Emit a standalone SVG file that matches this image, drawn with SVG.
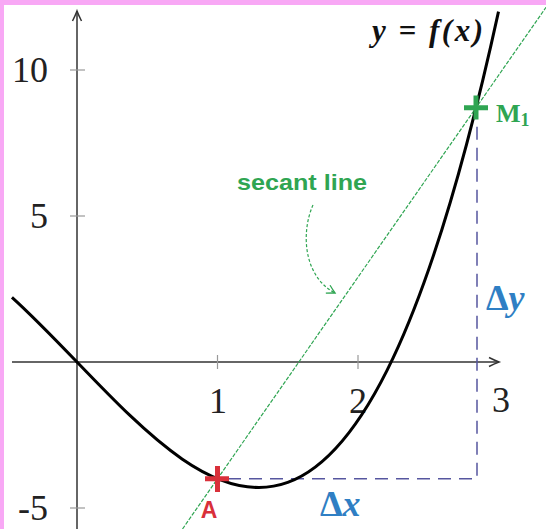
<svg xmlns="http://www.w3.org/2000/svg" width="546" height="529" viewBox="0 0 546 529">
<style>
.axis{stroke:#333;stroke-width:1.5;fill:none}
.tick{stroke:#999;stroke-width:1.2}
.num{font-family:"Liberation Serif","DejaVu Serif",serif;font-size:36px;fill:#222}
.green{fill:#2fa552}
.blue{font-family:"Liberation Serif","DejaVu Serif",serif;font-size:36px;font-weight:bold;fill:#2f7fc4}
</style>
<defs>
<marker id="ah" markerWidth="14" markerHeight="12" refX="11" refY="6" orient="auto" markerUnits="userSpaceOnUse">
<path d="M1,1.5 Q7,4.5 11,6 Q7,7.5 1,10.5" fill="none" stroke="#333" stroke-width="1.5"/>
</marker>
<marker id="gh" markerWidth="12" markerHeight="12" refX="9" refY="6" orient="auto" markerUnits="userSpaceOnUse">
<path d="M1,1.5 Q6,4.5 9,6 Q6,7.5 1,10.5" fill="none" stroke="#2fa552" stroke-width="1.3"/>
</marker>
</defs>
<rect x="0" y="0" width="546" height="529" fill="#f8a8f5"/>
<rect x="4" y="5" width="542" height="524" fill="#ffffff"/>
<g id="axes">
<path class="axis" d="M12,362 H499" marker-end="url(#ah)"/>
<path class="axis" d="M77,529 V11" marker-end="url(#ah)"/>
<g class="tick">
<line x1="217.5" y1="355" x2="217.5" y2="369"/>
<line x1="358" y1="355" x2="358" y2="369"/>
<line x1="70" y1="70" x2="85" y2="70"/>
<line x1="70" y1="216" x2="85" y2="216"/>
<line x1="70" y1="508" x2="85" y2="508"/>
</g>
<text class="num" x="48" y="82" text-anchor="end">10</text>
<text class="num" x="48" y="228" text-anchor="end">5</text>
<text class="num" x="48" y="520" text-anchor="end">-5</text>
<text class="num" x="218" y="413" text-anchor="middle">1</text>
<text class="num" x="358" y="413" text-anchor="middle">2</text>
<text class="num" x="501" y="412" text-anchor="middle">3</text>
</g>
<g id="connectors">
<path d="M228,478.8 H477 V122" fill="none" stroke="#56569f" stroke-width="1.5" stroke-dasharray="13 8"/>
<line x1="182.5" y1="529" x2="546" y2="7.3" stroke="#2fa552" stroke-width="1.2" stroke-dasharray="4 1.5"/>
<path d="M313,205 C301,232 303,276 335,293" fill="none" stroke="#2fa552" stroke-width="1.2" stroke-dasharray="3 2" marker-end="url(#gh)"/>
</g>
<g id="curve">
<path d="M11.95,297.3 C174.13,444.16 336.32,753.13 498.5,11.6" fill="none" stroke="#000" stroke-width="3"/>
<text x="372" y="41" font-family="Liberation Serif,DejaVu Serif,serif" font-size="31" font-weight="bold" font-style="italic" fill="#111" textLength="111" lengthAdjust="spacing">y = f(x)</text>
</g>
<g id="nodeA">
<path d="M217.5,466 V492 M205,478.8 H229" stroke="#d9303a" stroke-width="5"/>
<text x="209" y="518" text-anchor="middle" font-family="Liberation Sans,Arial,sans-serif" font-size="23" font-weight="bold" fill="#d9303a">A</text>
</g>
<g id="nodeM1">
<path d="M476,95.5 V119.5 M464,107.8 H488" stroke="#2fa552" stroke-width="5"/>
<text x="496" y="122" font-family="Liberation Serif,DejaVu Serif,serif" font-size="26" font-weight="bold" class="green">M<tspan font-size="18" dy="4">1</tspan></text>
</g>
<g id="secantLabel">
<text x="237" y="190" font-family="Liberation Sans,Arial,sans-serif" font-size="22" font-weight="bold" class="green" textLength="130" lengthAdjust="spacingAndGlyphs">secant line</text>
</g>
<g id="deltaY">
<text class="blue" x="486" y="310">Δ<tspan font-style="italic">y</tspan></text>
</g>
<g id="deltaX">
<text class="blue" x="320" y="516">Δ<tspan font-style="italic">x</tspan></text>
</g>
</svg>
